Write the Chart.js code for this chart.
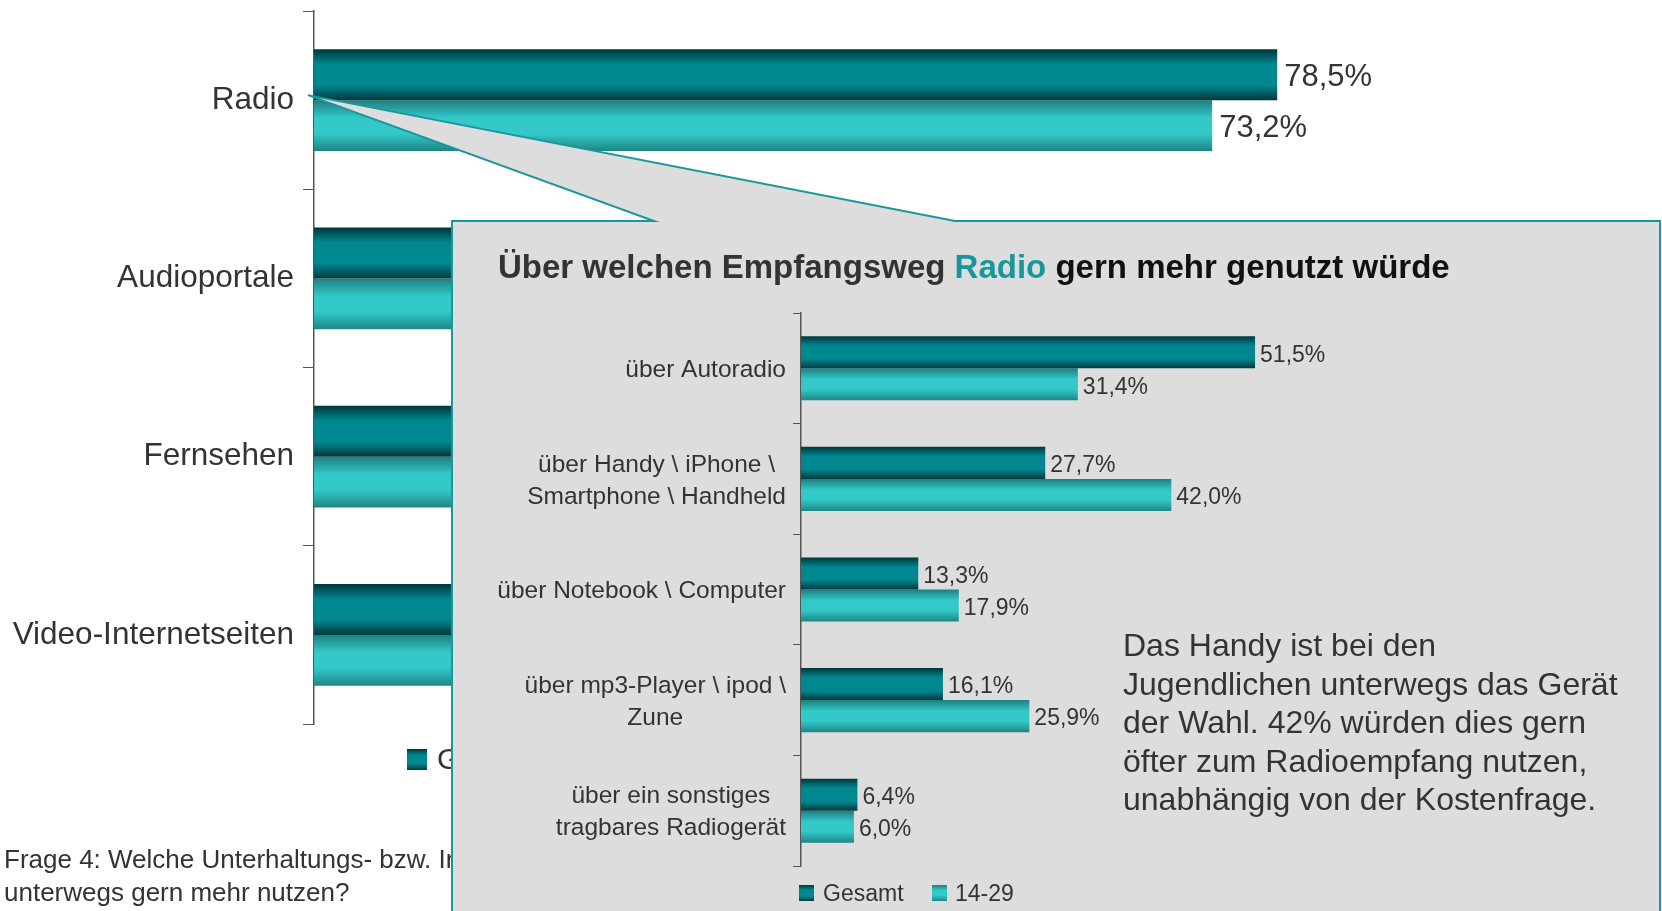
<!DOCTYPE html>
<html>
<head>
<meta charset="utf-8">
<script src="https://cdn.jsdelivr.net/npm/chart.js@4.4.1/dist/chart.umd.min.js"></script>
<style>
html, body { margin: 0; padding: 0; background: #fff; }
body { width: 1662px; height: 911px; position: relative; overflow: hidden; font-family: "Liberation Sans", Arial, sans-serif; color: #333; }
canvas.layer { position: absolute; left: 0; top: 0; }
#mainChart { z-index: 0; }
#innerChart { z-index: 2; }
.txt { position: absolute; white-space: nowrap; }
.under { z-index: 1; }
.over { z-index: 3; }
.sq { display: inline-block; vertical-align: middle; }
.sq.dark { background: linear-gradient(#00363a, #008890 30%, #008890 70%, #003a3e); }
.sq.light { background: linear-gradient(#1e7f80, #33c9c9 35%, #33c9c9 65%, #1f8585); }
</style>
</head>
<body>
<canvas id="mainChart" class="layer" width="1662" height="911"></canvas>

<div class="txt under" style="left:407px;top:740px;font-size:30px;line-height:34px;">
  <span class="sq dark" style="width:20px;height:21px;margin-right:10px;"></span><span style="vertical-align:middle">Gesamt</span>
  <span class="sq light" style="width:20px;height:21px;margin:0 10px 0 30px;"></span><span style="vertical-align:middle">14-29</span>
</div>
<div class="txt under" style="left:4px;top:843px;font-size:26px;line-height:33px;">
  Frage 4: Welche Unterhaltungs- bzw. Informationsangebote würden Sie<br>unterwegs gern mehr nutzen?
</div>

<canvas id="innerChart" class="layer" width="1662" height="911"></canvas>

<div class="txt over" style="left:498px;top:247px;font-size:33px;line-height:40px;font-weight:bold;">
  <span style="color:#333">Über welchen Empfangsweg</span> <span style="color:#17969b">Radio</span> <span style="color:#111">gern mehr genutzt würde</span>
</div>
<div class="txt over" style="left:1123px;top:626px;font-size:32px;line-height:38.5px;">
  Das Handy ist bei den<br>Jugendlichen unterwegs das Gerät<br>der Wahl. 42% würden dies gern<br>öfter zum Radioempfang nutzen,<br>unabhängig von der Kostenfrage.
</div>
<div class="txt over" style="left:799px;top:876px;font-size:23px;line-height:30px;">
  <span class="sq dark" style="width:15px;height:16px;margin-right:9px;"></span><span style="vertical-align:middle">Gesamt</span>
  <span class="sq light" style="width:15px;height:16px;margin:0 8px 0 22px;"></span><span style="vertical-align:middle">14-29</span>
</div>

<script>
// main chart data
const mainLabels = ['Radio', 'Audioportale', 'Fernsehen', 'Video-Internetseiten'];
const mainGesamt = [78.5, 34.0, 30.5, 25.0];
const main1429 = [73.2, 42.0, 33.0, 31.0];

// inset chart data
const innerLabels = [
  ['über Autoradio'],
  ['über Handy \\ iPhone \\', 'Smartphone \\ Handheld'],
  ['über Notebook \\ Computer'],
  ['über mp3-Player \\ ipod \\', 'Zune'],
  ['über ein sonstiges', 'tragbares Radiogerät']
];
const innerGesamt = [51.5, 27.7, 13.3, 16.1, 6.4];
const inner1429 = [31.4, 42.0, 17.9, 25.9, 6.0];

const FONT = '"Liberation Sans", Arial, sans-serif';
const darkShade = [[0, '#00363a'], [0.3, '#008890'], [0.7, '#008890'], [1, '#003a3e']];
const lightShade = [[0, '#1e7f80'], [0.35, '#33c9c9'], [0.65, '#33c9c9'], [1, '#1f8585']];

//--------------- vertical gradient per bar, from the y scale ---------------//
function shadeFill(stops) {
  return function(ctx) {
    const chart = ctx.chart;
    const y = chart.scales.y;
    if (!chart.chartArea || !y || ctx.type !== 'data') return stops[1][1];
    const ds = ctx.dataset;
    const n = chart.data.labels.length;
    const th = (y.bottom - y.top) / n * ds.categoryPercentage * ds.barPercentage / 2;
    const cy = y.getPixelForValue(ctx.dataIndex) + (ctx.datasetIndex - 0.5) * th;
    const g = chart.ctx.createLinearGradient(0, cy - th / 2, 0, cy + th / 2);
    stops.forEach(s => g.addColorStop(s[0], s[1]));
    return g;
  };
}

//--------------- value labels ---------------//
const valueLabels = {
  id: 'valueLabels',
  afterDatasetsDraw(chart, args, opts) {
    const c = chart.ctx;
    c.save();
    c.font = opts.size + 'px ' + FONT;
    c.fillStyle = '#333';
    c.textAlign = 'left';
    c.textBaseline = 'middle';
    chart.data.datasets.forEach((ds, d) => {
      chart.getDatasetMeta(d).data.forEach((bar, i) => {
        const txt = ds.data[i].toFixed(1).replace('.', ',') + '%';
        c.fillText(txt, bar.x + opts.gap, bar.y + opts.dy);
      });
    });
    c.restore();
  }
};

function baseOptions(xMax, pad, yWidth) {
  return {
    indexAxis: 'y',
    responsive: false,
    animation: false,
    layout: { padding: pad },
    plugins: { legend: { display: false }, tooltip: { enabled: false } },
    scales: {
      x: { min: 0, max: xMax, display: false },
      y: {
        afterFit(s) { s.width = yWidth; s.paddingTop = 0; s.paddingBottom = 0; },
        grid: { display: true, drawOnChartArea: false, offset: true, tickLength: 10, color: '#555' },
        border: { display: true, color: '#555', width: 1.5 }
      }
    }
  };
}

function makeSets(g, y, pct) {
  return [
    { label: 'Gesamt', data: g, backgroundColor: shadeFill(darkShade), categoryPercentage: pct, barPercentage: 1 },
    { label: '14-29', data: y, backgroundColor: shadeFill(lightShade), categoryPercentage: pct, barPercentage: 1 }
  ];
}

//--------------- main chart ---------------//
const mainOpts = baseOptions(100, { left: 0, top: 11, right: 121, bottom: 187 }, 314);
mainOpts.scales.y.grid.tickLength = 11;
mainOpts.scales.y.ticks = { color: '#333', font: { family: FONT, size: 31.5 }, padding: 9 };
mainOpts.plugins.valueLabels = { size: 31, gap: 7, dy: 3 };

const mainChart = new Chart(document.getElementById('mainChart'), {
  type: 'bar',
  data: { labels: mainLabels, datasets: makeSets(mainGesamt, main1429, 0.572) },
  options: mainOpts,
  plugins: [valueLabels]
});

//--------------- callout box (drawn under the inset chart) ---------------//
const callout = {
  id: 'callout',
  beforeDraw(chart) {
    const c = chart.ctx;
    const tipX = mainChart.chartArea.left - 6;
    const tipY = mainChart.scales.y.getPixelForValue(0) - 5;
    c.save();
    c.beginPath();
    c.moveTo(452, 221);
    c.lineTo(654, 221);
    c.lineTo(tipX, tipY);
    c.lineTo(955, 221);
    c.lineTo(1660, 221);
    c.lineTo(1660, 920);
    c.lineTo(452, 920);
    c.closePath();
    c.fillStyle = '#dddddd';
    c.fill();
    c.lineWidth = 2;
    c.strokeStyle = '#1a979b';
    c.stroke();
    c.restore();
  }
};

//--------------- inset labels: centred lines, block right-aligned ---------------//
const blockLabels = {
  id: 'blockLabels',
  afterDraw(chart, args, opts) {
    const s = chart.scales.y;
    const c = chart.ctx;
    c.save();
    c.font = opts.size + 'px ' + FONT;
    c.fillStyle = '#333';
    c.textAlign = 'center';
    c.textBaseline = 'middle';
    const right = s.right - opts.offset;
    chart.data.labels.forEach((lab, i) => {
      const lines = [].concat(lab);
      const w = Math.max(...lines.map(t => c.measureText(t).width));
      const y = s.getPixelForTick(i) + opts.dy;
      lines.forEach((t, k) => {
        c.fillText(t, right - w / 2, y + (k - (lines.length - 1) / 2) * opts.lineHeight);
      });
    });
    c.restore();
  }
};

const innerOpts = baseOptions(60, { left: 0, top: 313, right: 332, bottom: 45 }, 801);
innerOpts.scales.y.grid.tickLength = 8;
innerOpts.scales.y.ticks = { display: false };
innerOpts.plugins.valueLabels = { size: 23, gap: 5, dy: 3 };
innerOpts.plugins.blockLabels = { size: 24.5, offset: 15, lineHeight: 32, dy: 2 };

const innerChart = new Chart(document.getElementById('innerChart'), {
  type: 'bar',
  data: { labels: innerLabels, datasets: makeSets(innerGesamt, inner1429, 0.58) },
  options: innerOpts,
  plugins: [callout, valueLabels, blockLabels]
});
</script>
</body>
</html>
